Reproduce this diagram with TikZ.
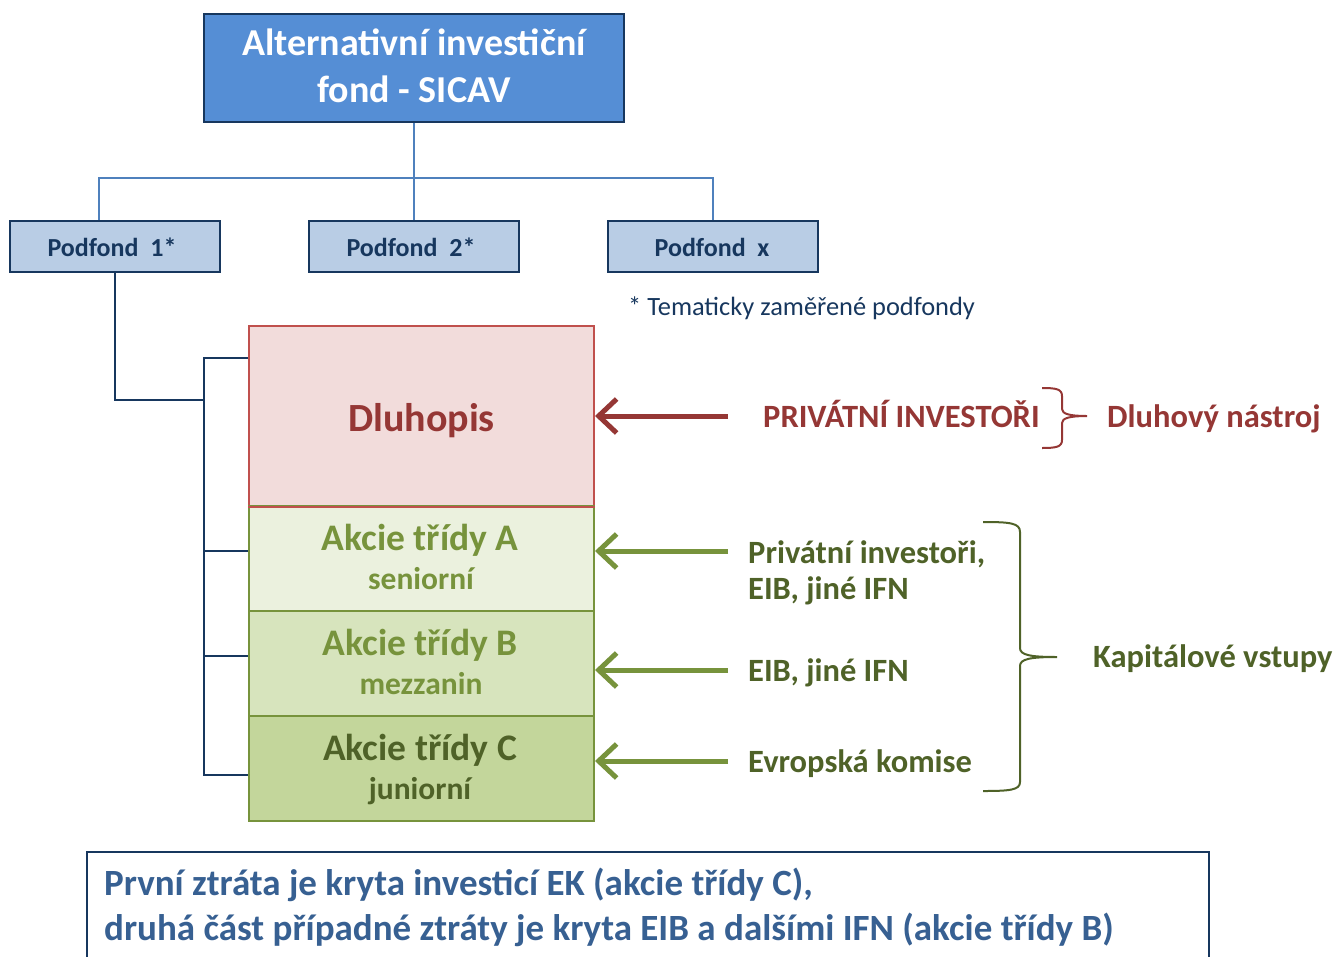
\documentclass[tikz,border=0pt]{standalone}
\usepackage{fontspec}
\setmainfont{Carlito}
\usetikzlibrary{arrows.meta,calc}
\definecolor{navy}{HTML}{17375E}
\definecolor{tfill}{HTML}{558ED5}
\definecolor{lblue}{HTML}{4F81BD}
\definecolor{pfill}{HTML}{B9CDE5}
\definecolor{rfill}{HTML}{F2DCDB}
\definecolor{rline}{HTML}{C0504D}
\definecolor{rtext}{HTML}{953735}
\definecolor{gline}{HTML}{77933C}
\definecolor{gA}{HTML}{EBF1DE}
\definecolor{gB}{HTML}{D7E4BD}
\definecolor{gC}{HTML}{C3D69B}
\definecolor{gdark}{HTML}{4F6228}
\definecolor{btext}{HTML}{376092}
\tikzset{
  titlebox/.style={draw=navy, line width=2pt, fill=tfill, minimum width=420pt, minimum height=108pt, inner sep=0pt},
  titletext/.style={anchor=base, inner sep=0pt, text=white, font=\bfseries\fontsize{38}{44}\selectfont},
  pfbox/.style={draw=navy, line width=2pt, fill=pfill, minimum width=210pt, minimum height=51pt, inner sep=0pt},
  pftext/.style={anchor=base, inner sep=0pt, text=navy, font=\bfseries\fontsize{26}{30}\selectfont},
  tranche/.style={line width=2pt, minimum width=345pt, inner sep=0pt},
  trhead/.style={anchor=base, inner sep=0pt, font=\bfseries\fontsize{37.5}{44}\selectfont},
  trsub/.style={anchor=base, inner sep=0pt, font=\bfseries\fontsize{31.5}{36}\selectfont},
  conn/.style={lblue, line width=1.5pt},
  navyconn/.style={navy, line width=2pt},
  bigarrow/.style={line width=5pt, -{Straight Barb[length=18pt,width=34pt,line width=5pt]}},
  rlabel/.style={anchor=base west, inner sep=0pt, font=\bfseries\fontsize{32.5}{38}\selectfont},
  bottext/.style={anchor=base west, inner sep=0pt, text=btext, font=\bfseries\fontsize{37}{44}\selectfont},
}
\begin{document}
\begin{tikzpicture}[x=1pt,y=-1pt]
\useasboundingbox (0,0) rectangle (1335,956);
\clip (0,0) rectangle (1335,956);
% title and sub-funds
\node[titlebox] (t) at (414,68) {};
\node[titletext] (t1) at (414,55) {Alternativní investiční};
\node[titletext] (t2) at (414,102) {fond - SICAV};
\node[pfbox] (pf1) at (115,246.5) {};
\node[pfbox] (pf2) at (414,246.5) {};
\node[pfbox] (pfx) at (713,246.5) {};
\node[pftext] (pf1t) at (112,256) {Podfond\ \ 1*};
\node[pftext] (pf2t) at (411,256) {Podfond\ \ 2*};
\node[pftext] (pfxt) at (712,256) {Podfond\ \ x};
\coordinate (hl) at (99,178);
\coordinate (hr) at (713,178);
\draw[conn] (t.south) -- (pf2.north);
\draw[conn] (pf1.north -| hl) |- (hr) -- (pfx.north);
\node[anchor=base west, inner sep=0pt, text=navy, font=\fontsize{26.4}{30}\selectfont] (note) at (628,315) {* Tematicky zaměřené podfondy};
% tranches
\node[tranche, draw=rline, fill=rfill, minimum height=180pt] (dl) at (421.5,416) {};
\node[tranche, draw=gline, fill=gA, minimum height=105pt] (a) at (421.5,558.5) {};
\node[tranche, draw=gline, fill=gB, minimum height=105pt] (b) at (421.5,663.5) {};
\node[tranche, draw=gline, fill=gC, minimum height=105pt] (c) at (421.5,768.5) {};
\draw[line width=2pt, rline] (dl.south west) -- (dl.south east);
\node[anchor=base, inner sep=0pt, text=rtext, font=\bfseries\fontsize{40}{46}\selectfont] (dlt) at (421.5,431) {Dluhopis};
\node[trhead, text=gline] (at) at (420,550) {Akcie třídy A};
\node[trsub, text=gline] (as) at (421,589) {seniorní};
\node[trhead, text=gline] (bt) at (420,655) {Akcie třídy B};
\node[trsub, text=gline] (bs) at (421,694) {mezzanin};
\node[trhead, text=gdark] (ct) at (420,760) {Akcie třídy C};
\node[trsub, text=gdark] (cs) at (420,799) {juniorní};
% bus from Podfond 1
\coordinate (bmid) at (204,400);
\coordinate (btop) at (204,358);
\coordinate (bA) at (204,551);
\coordinate (bB) at (204,656);
\coordinate (bC) at (204,775);
\draw[navyconn] (pf1.south) |- (bmid);
\draw[navyconn] (btop -| dl.west) -- (btop) -- (bC) -- (bC -| c.west);
\draw[navyconn] (bA) -- (bA -| a.west);
\draw[navyconn] (bB) -- (bB -| b.west);
% arrows
\coordinate (sD) at (728,416);
\coordinate (sA) at (728,551);
\coordinate (sB) at (728,670);
\coordinate (sC) at (728,761);
\draw[bigarrow, rtext] (sD) -- (sD -| dl.east);
\draw[bigarrow, gline] (sA) -- (sA -| a.east);
\draw[bigarrow, gline] (sB) -- (sB -| b.east);
\draw[bigarrow, gline] (sC) -- (sC -| c.east);
% right labels
\node[rlabel, text=rtext] (pi) at (763,427) {PRIVÁTNÍ INVESTOŘI};
\node[rlabel, text=rtext] (dn) at (1107,427) {Dluhový nástroj};
\node[rlabel, text=gdark] (lA1) at (748,563) {Privátní investoři,};
\node[rlabel, text=gdark] (lA2) at (748,599) {EIB, jiné IFN};
\node[rlabel, text=gdark] (lB) at (748,681) {EIB, jiné IFN};
\node[rlabel, text=gdark] (lC) at (748,772) {Evropská komise};
\node[rlabel, text=gdark] (kv) at (1093,667) {Kapitálové vstupy};
% braces
\draw[rtext, line width=2pt] (1042,388) .. controls (1056,388) and (1062,389) .. (1062,396) -- (1062,409) .. controls (1062,414) and (1070,416) .. (1087,416)
  (1087,416) .. controls (1070,416) and (1062,418) .. (1062,423) -- (1062,440) .. controls (1062,447) and (1056,448) .. (1042,448);
\draw[gdark, line width=2pt] (983,522) .. controls (1010,522) and (1020,523) .. (1020,532) -- (1020,648) .. controls (1020,655) and (1030,657) .. (1057,657)
  (1057,657) .. controls (1030,657) and (1020,659) .. (1020,666) -- (1020,782) .. controls (1020,790) and (1010,791) .. (983,791);
% bottom box
\node[draw=navy, line width=2pt, fill=white, minimum width=1122pt, minimum height=130pt, anchor=north west, inner sep=0pt] (bot) at (86,851) {};
\node[bottext] (bt1) at (104,895) {První ztráta je kryta investicí EK (akcie třídy C),};
\node[bottext] (bt2) at (104,940) {druhá část případné ztráty je kryta EIB a dalšími IFN (akcie třídy B)};
\end{tikzpicture}
\end{document}
